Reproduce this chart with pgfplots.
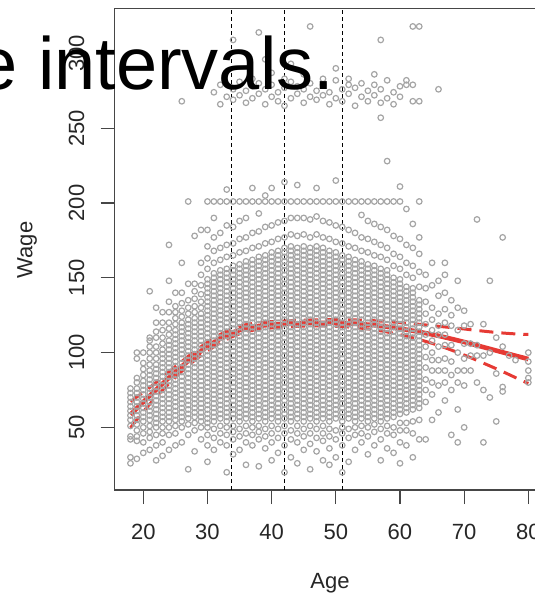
\documentclass[border=0pt]{standalone}
\usepackage{pgfplots}
\pgfplotsset{compat=1.18}
\usepackage{pgfplotstable}
\usepackage{fontspec}
\setmainfont{Liberation Sans}

\definecolor{ptgray}{RGB}{165,165,165}
\definecolor{fitred}{RGB}{230,58,52}
\definecolor{axgray}{RGB}{70,70,70}

% natural spline fit with pointwise bands (fit, lower, upper)
\pgfplotstableread{
age fit lo hi
18 58.5 49.7 67.3
20 67.0 60.5 73.5
22 75.2 70.4 80.0
24 83.2 79.3 87.1
26 90.8 87.5 94.1
28 97.8 94.8 100.8
30 104.0 101.1 106.9
32 109.3 106.5 112.1
34 113.5 110.9 116.1
36 116.3 113.9 118.7
38 117.8 115.6 120.0
40 118.6 116.5 120.7
42 119.1 117.1 121.1
44 119.5 117.5 121.5
46 119.8 117.8 121.8
48 119.9 117.8 122.0
50 119.8 117.6 122.0
52 119.5 117.1 121.9
54 119.0 116.3 121.7
56 118.3 115.3 121.3
58 117.3 113.8 120.8
60 116.0 112.0 120.0
62 114.6 109.9 119.3
64 113.0 107.5 118.5
66 111.2 104.8 117.6
68 109.2 101.7 116.7
70 107.1 98.4 115.8
72 104.8 94.8 114.8
74 102.5 91.1 113.9
76 100.2 87.3 113.1
78 97.9 83.3 112.5
80 95.7 79.3 112.1
}\fittab

\pgfplotsset{wagepts/.style={only marks, mark=o, mark size=1.4pt, color=ptgray, mark options={line width=0.6pt}}}

\begin{document}
\begin{tikzpicture}
\useasboundingbox (0,0) rectangle (267.5pt,297pt);
\clip (0,0) rectangle (267.5pt,297pt);
\begin{axis}[
  at={(57.27pt,52pt)}, anchor=south west,
  scale only axis, width=214.85pt, height=240.95pt,
  xmin=15.52, xmax=82.48, ymin=8.16, ymax=330.27,
  xtick={20,30,...,80}, ytick={50,100,...,300},
  tick pos=left, tick align=outside, major tick length=7pt,
  axis line style={axgray, line width=0.55pt},
  every tick/.style={axgray, line width=0.55pt},
  /pgf/number format/assume math mode=true,
  ticklabel style={font=\fontsize{11}{13}\selectfont, text=black!85},
  xticklabel style={anchor=base},
  xticklabel shift=17.65pt,
  yticklabel style={rotate=90, anchor=base},
  yticklabel shift=8.2pt,
]
% Wage against age, one column of workers per year of age
\addplot[wagepts] coordinates {
(18,26)(18,30)(18,42)(18,44)(18,51)(18,55)(18,58)(18,61)(18,64)(18,67)(18,70)(18,73)(18,76)
(19,29)(19,41)(19,44)(19,48)(19,52)(19,55)(19,58)(19,61)(19,64)(19,67)(19,70)(19,73)(19,76)(19,80)(19,83)(19,96)(19,100)
(20,33)(20,40)(20,46)(20,50)(20,54)(20,57)(20,60)(20,63)(20,66)(20,69)(20,72)(20,75)(20,78)(20,81)(20,85)(20,89)(20,93)(20,100)
(21,35)(21,43)(21,47)(21,51)(21,55)(21,58)(21,61)(21,64)(21,67)(21,70)(21,73)(21,76)(21,79)(21,82)(21,85)(21,88)(21,92)(21,96)(21,100)(21,104)(21,108)(21,110)(21,141)
(22,28)(22,38)(22,45)(22,50)(22,53)(22,56)(22,59)(22,62)(22,65)(22,68)(22,71)(22,74)(22,77)(22,80)(22,83)(22,86)(22,89)(22,92)(22,96)(22,100)(22,104)(22,110)(22,114)(22,120)(22,130)
(23,31)(23,40)(23,46)(23,50)(23,54)(23,57)(23,60)(23,63)(23,66)(23,69)(23,72)(23,75)(23,78)(23,81)(23,84)(23,87)(23,90)(23,93)(23,96)(23,99)(23,102)(23,106)(23,110)(23,115)(23,120)(23,127)
(24,35)(24,45)(24,50)(24,54)(24,57)(24,60)(24,63)(24,66)(24,69)(24,72)(24,75)(24,78)(24,81)(24,84)(24,87)(24,90)(24,93)(24,96)(24,99)(24,102)(24,105)(24,108)(24,112)(24,116)(24,120)(24,127)(24,134)(24,148)(24,172)
(25,38)(25,46)(25,51)(25,55)(25,58)(25,61)(25,64)(25,67)(25,70)(25,73)(25,76)(25,79)(25,82)(25,85)(25,88)(25,91)(25,94)(25,97)(25,100)(25,103)(25,106)(25,109)(25,112)(25,115)(25,119)(25,123)(25,127)(25,131)(25,140)
(26,40)(26,50)(26,54)(26,57)(26,60)(26,63)(26,66)(26,69)(26,72)(26,75)(26,78)(26,81)(26,84)(26,87)(26,90)(26,93)(26,96)(26,99)(26,102)(26,105)(26,108)(26,111)(26,114)(26,117)(26,120)(26,124)(26,128)(26,133)(26,140)(26,160)(26,268)
(27,22)(27,45)(27,52)(27,56)(27,59)(27,62)(27,65)(27,68)(27,71)(27,74)(27,77)(27,80)(27,83)(27,86)(27,89)(27,92)(27,95)(27,98)(27,101)(27,104)(27,107)(27,110)(27,113)(27,116)(27,119)(27,122)(27,126)(27,130)(27,135)(27,146)(27,201)
(28,34)(28,48)(28,53)(28,57)(28,60)(28,63)(28,66)(28,69)(28,72)(28,75)(28,78)(28,81)(28,84)(28,87)(28,90)(28,93)(28,96)(28,99)(28,102)(28,105)(28,108)(28,111)(28,114)(28,117)(28,120)(28,123)(28,127)(28,131)(28,136)(28,141)(28,146)(28,178)
(29,42)(29,50)(29,54)(29,57)(29,60)(29,63)(29,66)(29,69)(29,72)(29,75)(29,78)(29,81)(29,84)(29,87)(29,90)(29,93)(29,96)(29,99)(29,102)(29,105)(29,108)(29,111)(29,114)(29,117)(29,120)(29,123)(29,126)(29,130)(29,134)(29,139)(29,145)(29,152)(29,160)(29,182)
};
\addplot[wagepts] coordinates {
(30,27)(30,38)(30,45)(30,50)(30,53)(30,56)(30,59)(30,62)(30,65)(30,68)(30,71)(30,74)(30,77)(30,80)(30,83)(30,86)(30,89)(30,92)(30,95)(30,98)(30,101)(30,104)(30,107)(30,110)(30,113)(30,116)(30,119)(30,122)(30,125)(30,128)(30,131)(30,134)(30,137)(30,140)(30,143)(30,146)(30,149)(30,156)(30,163)(30,171)(30,182)(30,201)
(31,35)(31,43)(31,49)(31,54)(31,57)(31,60)(31,63)(31,66)(31,69)(31,72)(31,75)(31,78)(31,81)(31,84)(31,87)(31,90)(31,93)(31,96)(31,99)(31,102)(31,105)(31,108)(31,111)(31,114)(31,117)(31,120)(31,123)(31,126)(31,129)(31,132)(31,135)(31,138)(31,141)(31,144)(31,147)(31,150)(31,153)(31,160)(31,168)(31,177)(31,190)(31,201)(31,274)
(32,40)(32,46)(32,51)(32,56)(32,59)(32,62)(32,65)(32,68)(32,71)(32,74)(32,77)(32,80)(32,83)(32,86)(32,89)(32,92)(32,95)(32,98)(32,101)(32,104)(32,107)(32,110)(32,113)(32,116)(32,119)(32,122)(32,125)(32,128)(32,131)(32,134)(32,137)(32,140)(32,143)(32,146)(32,149)(32,152)(32,155)(32,162)(32,170)(32,180)(32,201)(32,266)(32,279)
(33,20)(33,38)(33,45)(33,50)(33,54)(33,57)(33,60)(33,63)(33,66)(33,69)(33,72)(33,75)(33,78)(33,81)(33,84)(33,87)(33,90)(33,93)(33,96)(33,99)(33,102)(33,105)(33,108)(33,111)(33,114)(33,117)(33,120)(33,123)(33,126)(33,129)(33,132)(33,135)(33,138)(33,141)(33,144)(33,147)(33,150)(33,153)(33,156)(33,164)(33,172)(33,185)(33,201)(33,209)(33,271)
(34,32)(34,42)(34,47)(34,51)(34,56)(34,59)(34,62)(34,65)(34,68)(34,71)(34,74)(34,77)(34,80)(34,83)(34,86)(34,89)(34,92)(34,95)(34,98)(34,101)(34,104)(34,107)(34,110)(34,113)(34,116)(34,119)(34,122)(34,125)(34,128)(34,131)(34,134)(34,137)(34,140)(34,143)(34,146)(34,149)(34,152)(34,155)(34,158)(34,165)(34,173)(34,184)(34,201)(34,269)(34,276)(34,309)
(35,35)(35,44)(35,49)(35,54)(35,57)(35,60)(35,63)(35,66)(35,69)(35,72)(35,75)(35,78)(35,81)(35,84)(35,87)(35,90)(35,93)(35,96)(35,99)(35,102)(35,105)(35,108)(35,111)(35,114)(35,117)(35,120)(35,123)(35,126)(35,129)(35,132)(35,135)(35,138)(35,141)(35,144)(35,147)(35,150)(35,153)(35,156)(35,159)(35,167)(35,176)(35,188)(35,201)(35,272)(35,281)
(36,25)(36,40)(36,46)(36,51)(36,56)(36,59)(36,62)(36,65)(36,68)(36,71)(36,74)(36,77)(36,80)(36,83)(36,86)(36,89)(36,92)(36,95)(36,98)(36,101)(36,104)(36,107)(36,110)(36,113)(36,116)(36,119)(36,122)(36,125)(36,128)(36,131)(36,134)(36,137)(36,140)(36,143)(36,146)(36,149)(36,152)(36,155)(36,158)(36,161)(36,168)(36,177)(36,190)(36,201)(36,267)(36,275)
(37,38)(37,45)(37,50)(37,54)(37,57)(37,60)(37,63)(37,66)(37,69)(37,72)(37,75)(37,78)(37,81)(37,84)(37,87)(37,90)(37,93)(37,96)(37,99)(37,102)(37,105)(37,108)(37,111)(37,114)(37,117)(37,120)(37,123)(37,126)(37,129)(37,132)(37,135)(37,138)(37,141)(37,144)(37,147)(37,150)(37,153)(37,156)(37,159)(37,162)(37,170)(37,180)(37,201)(37,210)(37,270)(37,278)(37,283)
(38,24)(38,42)(38,47)(38,51)(38,56)(38,59)(38,62)(38,65)(38,68)(38,71)(38,74)(38,77)(38,80)(38,83)(38,86)(38,89)(38,92)(38,95)(38,98)(38,101)(38,104)(38,107)(38,110)(38,113)(38,116)(38,119)(38,122)(38,125)(38,128)(38,131)(38,134)(38,137)(38,140)(38,143)(38,146)(38,149)(38,152)(38,155)(38,158)(38,161)(38,164)(38,171)(38,181)(38,193)(38,201)(38,273)(38,280)(38,314)
(39,36)(39,44)(39,49)(39,54)(39,57)(39,60)(39,63)(39,66)(39,69)(39,72)(39,75)(39,78)(39,81)(39,84)(39,87)(39,90)(39,93)(39,96)(39,99)(39,102)(39,105)(39,108)(39,111)(39,114)(39,117)(39,120)(39,123)(39,126)(39,129)(39,132)(39,135)(39,138)(39,141)(39,144)(39,147)(39,150)(39,153)(39,156)(39,159)(39,162)(39,165)(39,173)(39,184)(39,201)(39,205)(39,266)(39,276)(39,296)
(40,28)(40,40)(40,46)(40,51)(40,56)(40,59)(40,62)(40,65)(40,68)(40,71)(40,74)(40,77)(40,80)(40,83)(40,86)(40,89)(40,92)(40,95)(40,98)(40,101)(40,104)(40,107)(40,110)(40,113)(40,116)(40,119)(40,122)(40,125)(40,128)(40,131)(40,134)(40,137)(40,140)(40,143)(40,146)(40,149)(40,152)(40,155)(40,158)(40,161)(40,164)(40,167)(40,174)(40,185)(40,201)(40,210)(40,271)(40,279)(40,287)
(41,33)(41,43)(41,49)(41,54)(41,57)(41,60)(41,63)(41,66)(41,69)(41,72)(41,75)(41,78)(41,81)(41,84)(41,87)(41,90)(41,93)(41,96)(41,99)(41,102)(41,105)(41,108)(41,111)(41,114)(41,117)(41,120)(41,123)(41,126)(41,129)(41,132)(41,135)(41,138)(41,141)(41,144)(41,147)(41,150)(41,153)(41,156)(41,159)(41,162)(41,165)(41,168)(41,176)(41,187)(41,201)(41,268)(41,274)
};
\addplot[wagepts] coordinates {
(42,20)(42,38)(42,46)(42,51)(42,56)(42,59)(42,62)(42,65)(42,68)(42,71)(42,74)(42,77)(42,80)(42,83)(42,86)(42,89)(42,92)(42,95)(42,98)(42,101)(42,104)(42,107)(42,110)(42,113)(42,116)(42,119)(42,122)(42,125)(42,128)(42,131)(42,134)(42,137)(42,140)(42,143)(42,146)(42,149)(42,152)(42,155)(42,158)(42,161)(42,164)(42,167)(42,170)(42,177)(42,188)(42,201)(42,214)(42,265)(42,277)(42,283)
(43,30)(43,42)(43,48)(43,54)(43,57)(43,60)(43,63)(43,66)(43,69)(43,72)(43,75)(43,78)(43,81)(43,84)(43,87)(43,90)(43,93)(43,96)(43,99)(43,102)(43,105)(43,108)(43,111)(43,114)(43,117)(43,120)(43,123)(43,126)(43,129)(43,132)(43,135)(43,138)(43,141)(43,144)(43,147)(43,150)(43,153)(43,156)(43,159)(43,162)(43,165)(43,168)(43,171)(43,179)(43,190)(43,201)(43,270)(43,281)(43,293)
(44,26)(44,40)(44,46)(44,51)(44,56)(44,59)(44,62)(44,65)(44,68)(44,71)(44,74)(44,77)(44,80)(44,83)(44,86)(44,89)(44,92)(44,95)(44,98)(44,101)(44,104)(44,107)(44,110)(44,113)(44,116)(44,119)(44,122)(44,125)(44,128)(44,131)(44,134)(44,137)(44,140)(44,143)(44,146)(44,149)(44,152)(44,155)(44,158)(44,161)(44,164)(44,167)(44,170)(44,178)(44,190)(44,201)(44,212)(44,273)(44,278)
(45,35)(45,44)(45,49)(45,54)(45,57)(45,60)(45,63)(45,66)(45,69)(45,72)(45,75)(45,78)(45,81)(45,84)(45,87)(45,90)(45,93)(45,96)(45,99)(45,102)(45,105)(45,108)(45,111)(45,114)(45,117)(45,120)(45,123)(45,126)(45,129)(45,132)(45,135)(45,138)(45,141)(45,144)(45,147)(45,150)(45,153)(45,156)(45,159)(45,162)(45,165)(45,168)(45,171)(45,179)(45,190)(45,201)(45,267)(45,276)(45,286)
(46,22)(46,39)(46,46)(46,51)(46,56)(46,59)(46,62)(46,65)(46,68)(46,71)(46,74)(46,77)(46,80)(46,83)(46,86)(46,89)(46,92)(46,95)(46,98)(46,101)(46,104)(46,107)(46,110)(46,113)(46,116)(46,119)(46,122)(46,125)(46,128)(46,131)(46,134)(46,137)(46,140)(46,143)(46,146)(46,149)(46,152)(46,155)(46,158)(46,161)(46,164)(46,167)(46,170)(46,177)(46,189)(46,201)(46,271)(46,280)(46,318)
(47,34)(47,43)(47,49)(47,54)(47,57)(47,60)(47,63)(47,66)(47,69)(47,72)(47,75)(47,78)(47,81)(47,84)(47,87)(47,90)(47,93)(47,96)(47,99)(47,102)(47,105)(47,108)(47,111)(47,114)(47,117)(47,120)(47,123)(47,126)(47,129)(47,132)(47,135)(47,138)(47,141)(47,144)(47,147)(47,150)(47,153)(47,156)(47,159)(47,162)(47,165)(47,168)(47,171)(47,179)(47,191)(47,201)(47,210)(47,269)(47,275)
(48,28)(48,41)(48,46)(48,51)(48,56)(48,59)(48,62)(48,65)(48,68)(48,71)(48,74)(48,77)(48,80)(48,83)(48,86)(48,89)(48,92)(48,95)(48,98)(48,101)(48,104)(48,107)(48,110)(48,113)(48,116)(48,119)(48,122)(48,125)(48,128)(48,131)(48,134)(48,137)(48,140)(48,143)(48,146)(48,149)(48,152)(48,155)(48,158)(48,161)(48,164)(48,167)(48,170)(48,177)(48,188)(48,201)(48,272)(48,279)(48,283)
(49,25)(49,36)(49,44)(49,49)(49,54)(49,57)(49,60)(49,63)(49,66)(49,69)(49,72)(49,75)(49,78)(49,81)(49,84)(49,87)(49,90)(49,93)(49,96)(49,99)(49,102)(49,105)(49,108)(49,111)(49,114)(49,117)(49,120)(49,123)(49,126)(49,129)(49,132)(49,135)(49,138)(49,141)(49,144)(49,147)(49,150)(49,153)(49,156)(49,159)(49,162)(49,165)(49,168)(49,176)(49,187)(49,201)(49,266)(49,274)
(50,30)(50,42)(50,48)(50,56)(50,59)(50,62)(50,65)(50,68)(50,71)(50,74)(50,77)(50,80)(50,83)(50,86)(50,89)(50,92)(50,95)(50,98)(50,101)(50,104)(50,107)(50,110)(50,113)(50,116)(50,119)(50,122)(50,125)(50,128)(50,131)(50,134)(50,137)(50,140)(50,143)(50,146)(50,149)(50,152)(50,155)(50,158)(50,161)(50,164)(50,167)(50,174)(50,185)(50,201)(50,215)(50,270)(50,282)(50,290)
(51,20)(51,38)(51,46)(51,50)(51,54)(51,57)(51,60)(51,63)(51,66)(51,69)(51,72)(51,75)(51,78)(51,81)(51,84)(51,87)(51,90)(51,93)(51,96)(51,99)(51,102)(51,105)(51,108)(51,111)(51,114)(51,117)(51,120)(51,123)(51,126)(51,129)(51,132)(51,135)(51,138)(51,141)(51,144)(51,147)(51,150)(51,153)(51,156)(51,159)(51,162)(51,165)(51,173)(51,184)(51,201)(51,268)(51,276)
(52,27)(52,43)(52,49)(52,56)(52,59)(52,62)(52,65)(52,68)(52,71)(52,74)(52,77)(52,80)(52,83)(52,86)(52,89)(52,92)(52,95)(52,98)(52,101)(52,104)(52,107)(52,110)(52,113)(52,116)(52,119)(52,122)(52,125)(52,128)(52,131)(52,134)(52,137)(52,140)(52,143)(52,146)(52,149)(52,152)(52,155)(52,158)(52,161)(52,164)(52,171)(52,182)(52,201)(52,273)(52,279)(52,283)
(53,35)(53,45)(53,50)(53,54)(53,57)(53,60)(53,63)(53,66)(53,69)(53,72)(53,75)(53,78)(53,81)(53,84)(53,87)(53,90)(53,93)(53,96)(53,99)(53,102)(53,105)(53,108)(53,111)(53,114)(53,117)(53,120)(53,123)(53,126)(53,129)(53,132)(53,135)(53,138)(53,141)(53,144)(53,147)(53,150)(53,153)(53,156)(53,159)(53,162)(53,170)(53,180)(53,201)(53,265)(53,277)
};
\addplot[wagepts] coordinates {
(54,40)(54,46)(54,51)(54,56)(54,59)(54,62)(54,65)(54,68)(54,71)(54,74)(54,77)(54,80)(54,83)(54,86)(54,89)(54,92)(54,95)(54,98)(54,101)(54,104)(54,107)(54,110)(54,113)(54,116)(54,119)(54,122)(54,125)(54,128)(54,131)(54,134)(54,137)(54,140)(54,143)(54,146)(54,149)(54,152)(54,155)(54,158)(54,161)(54,168)(54,177)(54,192)(54,201)(54,271)(54,280)
(55,32)(55,44)(55,50)(55,54)(55,57)(55,60)(55,63)(55,66)(55,69)(55,72)(55,75)(55,78)(55,81)(55,84)(55,87)(55,90)(55,93)(55,96)(55,99)(55,102)(55,105)(55,108)(55,111)(55,114)(55,117)(55,120)(55,123)(55,126)(55,129)(55,132)(55,135)(55,138)(55,141)(55,144)(55,147)(55,150)(55,153)(55,156)(55,159)(55,167)(55,176)(55,188)(55,201)(55,268)(55,275)
(56,38)(56,47)(56,52)(56,56)(56,59)(56,62)(56,65)(56,68)(56,71)(56,74)(56,77)(56,80)(56,83)(56,86)(56,89)(56,92)(56,95)(56,98)(56,101)(56,104)(56,107)(56,110)(56,113)(56,116)(56,119)(56,122)(56,125)(56,128)(56,131)(56,134)(56,137)(56,140)(56,143)(56,146)(56,149)(56,152)(56,155)(56,158)(56,165)(56,174)(56,186)(56,201)(56,272)(56,279)(56,286)
(57,28)(57,42)(57,49)(57,54)(57,57)(57,60)(57,63)(57,66)(57,69)(57,72)(57,75)(57,78)(57,81)(57,84)(57,87)(57,90)(57,93)(57,96)(57,99)(57,102)(57,105)(57,108)(57,111)(57,114)(57,117)(57,120)(57,123)(57,126)(57,129)(57,132)(57,135)(57,138)(57,141)(57,144)(57,147)(57,150)(57,153)(57,156)(57,164)(57,172)(57,184)(57,201)(57,257)(57,267)(57,276)(57,309)
(58,36)(58,46)(58,51)(58,56)(58,59)(58,62)(58,65)(58,68)(58,71)(58,74)(58,77)(58,80)(58,83)(58,86)(58,89)(58,92)(58,95)(58,98)(58,101)(58,104)(58,107)(58,110)(58,113)(58,116)(58,119)(58,122)(58,125)(58,128)(58,131)(58,134)(58,137)(58,140)(58,143)(58,146)(58,149)(58,152)(58,155)(58,162)(58,170)(58,182)(58,201)(58,228)(58,270)(58,282)
(59,33)(59,45)(59,50)(59,57)(59,60)(59,63)(59,66)(59,69)(59,72)(59,75)(59,78)(59,81)(59,84)(59,87)(59,90)(59,93)(59,96)(59,99)(59,102)(59,105)(59,108)(59,111)(59,114)(59,117)(59,120)(59,123)(59,126)(59,129)(59,132)(59,135)(59,138)(59,141)(59,144)(59,147)(59,150)(59,158)(59,166)(59,178)(59,201)(59,266)(59,274)
(60,26)(60,40)(60,48)(60,53)(60,59)(60,62)(60,65)(60,68)(60,71)(60,74)(60,77)(60,80)(60,83)(60,86)(60,89)(60,92)(60,95)(60,98)(60,101)(60,104)(60,107)(60,110)(60,113)(60,116)(60,119)(60,122)(60,125)(60,128)(60,131)(60,134)(60,137)(60,140)(60,143)(60,146)(60,149)(60,156)(60,164)(60,176)(60,201)(60,211)(60,271)(60,278)
(61,38)(61,48)(61,53)(61,60)(61,63)(61,66)(61,69)(61,72)(61,75)(61,78)(61,81)(61,84)(61,87)(61,90)(61,93)(61,96)(61,99)(61,102)(61,105)(61,108)(61,111)(61,114)(61,117)(61,120)(61,123)(61,126)(61,129)(61,132)(61,135)(61,138)(61,141)(61,144)(61,152)(61,160)(61,172)(61,196)(61,279)(61,282)
(62,30)(62,46)(62,54)(62,62)(62,65)(62,68)(62,71)(62,74)(62,77)(62,80)(62,83)(62,86)(62,89)(62,92)(62,95)(62,98)(62,101)(62,104)(62,107)(62,110)(62,113)(62,116)(62,119)(62,122)(62,125)(62,128)(62,131)(62,134)(62,137)(62,140)(62,143)(62,150)(62,158)(62,170)(62,186)(62,268)(62,279)(62,318)
(63,42)(63,55)(63,63)(63,66)(63,69)(63,72)(63,75)(63,78)(63,81)(63,84)(63,87)(63,90)(63,93)(63,96)(63,99)(63,102)(63,105)(63,108)(63,111)(63,114)(63,117)(63,120)(63,123)(63,126)(63,129)(63,132)(63,135)(63,144)(63,154)(63,166)(63,177)(63,201)(63,268)(63,318)
(64,42)(64,67)(64,75)(64,82)(64,90)(64,97)(64,104)(64,112)(64,119)(64,126)(64,134)(64,143)(64,152)
(65,55)(65,72)(65,80)(65,88)(65,95)(65,100)(65,108)(65,115)(65,122)(65,130)(65,145)(65,160)
(66,60)(66,78)(66,88)(66,95)(66,104)(66,112)(66,118)(66,126)(66,138)(66,148)(66,276)
(67,68)(67,80)(67,88)(67,96)(67,105)(67,112)(67,120)(67,129)(67,140)(67,152)(67,160)
(68,45)(68,75)(68,85)(68,94)(68,105)(68,118)(68,125)(68,135)
(69,40)(69,62)(69,80)(69,88)(69,100)(69,115)(69,130)(69,148)
(70,50)(70,78)(70,88)(70,96)(70,106)(70,118)(70,128)
(71,88)(71,98)(71,106)(71,119)
(72,80)(72,98)(72,105)(72,189)
(73,40)(73,75)(73,98)(73,119)
(74,70)(74,100)(74,148)
(75,54)(75,86)(75,110)
(76,74)(76,77)(76,104)(76,177)
(77,98)(78,95)
(80,80)(80,83)(80,88)(80,94)(80,100)
};
% knots of the spline
\addplot[black, line width=0.5pt, dash pattern=on 2pt off 1.5pt] coordinates {(33.75,8.16) (33.75,330.27)};
\addplot[black, line width=0.5pt, dash pattern=on 2pt off 1.5pt] coordinates {(42,8.16) (42,330.27)};
\addplot[black, line width=0.5pt, dash pattern=on 2pt off 1.5pt] coordinates {(51,8.16) (51,330.27)};
% fitted curve and its bands
\addplot[fitred, line width=1.5pt, dash pattern=on 7pt off 4pt, smooth] table[x=age, y=hi] {\fittab};
\addplot[fitred, line width=1.5pt, dash pattern=on 7pt off 4pt, smooth] table[x=age, y=lo] {\fittab};
\addplot[fitred, line width=2.3pt, smooth] table[x=age, y=fit] {\fittab};
\end{axis}
\node[anchor=base, rotate=90, inner sep=0pt, font=\fontsize{11}{13}\selectfont, text=black!85] at (16.2pt,172pt) {Wage};
\node[anchor=base, inner sep=0pt, font=\fontsize{11}{13}\selectfont, text=black!85] at (165pt,2.8pt) {Age};
\node[anchor=base west, inner sep=0pt, font=\fontsize{37}{44}\selectfont] at (-12pt,252pt) {e intervals.};
\end{tikzpicture}
\end{document}
